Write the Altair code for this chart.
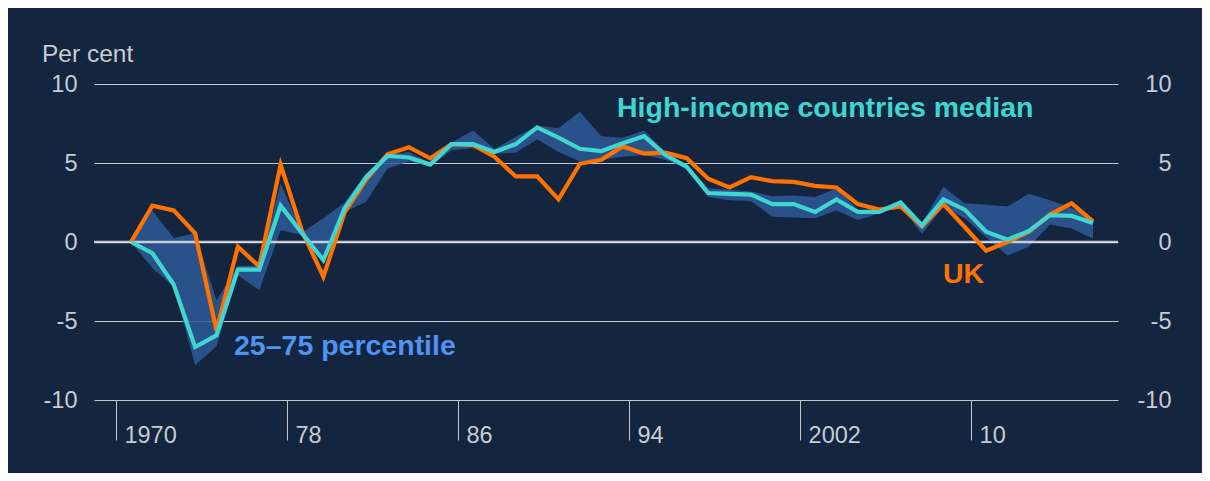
import altair as alt
import pandas as pd

# ---------------- data ----------------
years = list(range(1970, 2016))

uk = [0.0, 2.3, 2.0, 0.55, -5.6, -0.3, -1.55, 4.9, 0.7, -2.2, 1.9, 3.95,
      5.55, 6.0, 5.3, 6.2, 6.15, 5.4, 4.15, 4.15, 2.7, 4.95, 5.2, 6.05,
      5.6, 5.65, 5.3, 4.0, 3.45, 4.1, 3.85, 3.8, 3.55, 3.45, 2.4, 2.05,
      2.25, 1.0, 2.4, 0.95, -0.55, 0.0, 0.65, 1.75, 2.45, 1.3]

median = [0.0, -0.7, -2.7, -6.65, -5.9, -1.75, -1.75, 2.3, 0.55, -1.15, 2.15, 4.1,
          5.45, 5.35, 4.9, 6.2, 6.2, 5.7, 6.2, 7.25, 6.6, 5.9, 5.75, 6.25,
          6.7, 5.5, 4.75, 3.1, 3.05, 3.0, 2.4, 2.4, 1.9, 2.7, 1.9, 1.9,
          2.5, 1.05, 2.7, 2.05, 0.65, 0.15, 0.7, 1.7, 1.65, 1.2]

p75 = [0.0, 2.0, 0.25, 0.55, -3.7, -1.5, -1.5, 3.7, 0.6, 1.5, 2.5, 4.35,
       5.5, 5.7, 5.0, 6.3, 7.05, 5.9, 6.65, 7.35, 7.2, 8.25, 6.7, 6.6,
       7.05, 5.7, 4.9, 3.4, 3.3, 3.2, 2.9, 2.95, 2.85, 3.4, 2.05, 2.1,
       2.65, 1.2, 3.5, 2.45, 2.35, 2.25, 3.05, 2.65, 2.15, 1.5]

p25 = [0.0, -1.65, -2.8, -7.8, -6.6, -2.1, -3.05, 0.75, 0.45, -1.3, 1.9, 2.55,
       4.65, 5.1, 4.8, 5.8, 5.95, 5.6, 5.65, 6.5, 5.7, 5.1, 5.2, 5.4,
       5.5, 5.2, 4.65, 2.85, 2.65, 2.6, 1.6, 1.55, 1.5, 2.0, 1.4, 1.8,
       2.3, 0.5, 2.25, 1.5, 0.3, -0.85, -0.3, 1.1, 0.85, 0.2]

y_ticks = [-10, -5, 0, 5, 10]
x_ticks = [1970, 1978, 1986, 1994, 2002, 2010]
zero_line = [0]

label_median = "High-income countries median"
label_band = "25\u201375 percentile"
label_uk = "UK"
label_unit = "Per cent"

df = pd.DataFrame({"year": years, "uk": uk, "median": median, "p25": p25, "p75": p75})

# ---------------- styles ----------------
BG = "#13253f"
BAND = "#2e5a98"
ORANGE = "#ff7200"
TURQ = "#3fd6d1"
BLUE_TXT = "#4f93f5"
GRID = "#c3c6cc"
ZERO = "#d8dade"
TEXT = "#c8ccd3"
FONT = "Liberation Sans"

W, H = 1024, 316

xscale = alt.Scale(domain=[1968.27, 2016.17], nice=False, zero=False)
yscale = alt.Scale(domain=[-10, 10], nice=False, zero=False)

x_axis = alt.Axis(
    values=x_ticks,
    labelExpr="(datum.value == 1970 || datum.value == 2002) ? toString(datum.value) : substring(toString(datum.value), 2, 4)",
    title=None, domain=False, grid=False,
    ticks=True, tickSize=40, tickColor=GRID, tickWidth=1, tickOffset=-15,
    labelAlign="left", labelBaseline="top", labelPadding=-17, labelOffset=8,
    labelFontSize=23.5, labelColor=TEXT, labelFont=FONT,
    labelFlush=False, labelOverlap=False, labelBound=False,
)

left_axis = alt.Axis(
    values=y_ticks, labelExpr="toString(datum.value)", orient="left",
    title=None, domain=False, ticks=False,
    grid=True, gridColor=GRID, gridWidth=1,
    labelAlign="right", labelBaseline="middle", labelPadding=17,
    labelFontSize=23.5, labelColor=TEXT, labelFont=FONT,
)

right_axis = alt.Axis(
    values=y_ticks, labelExpr="toString(datum.value)", orient="right",
    title=None, domain=False, ticks=False, grid=False,
    labelAlign="right", labelBaseline="middle", labelPadding=53,
    labelFontSize=23.5, labelColor=TEXT, labelFont=FONT,
)

X = alt.X("year:Q", scale=xscale, axis=x_axis)

base = alt.Chart(df)

band = base.mark_area(color=BAND, opacity=0.85).encode(
    x=X,
    y=alt.Y("p25:Q", scale=yscale, axis=left_axis),
    y2="p75:Q",
)

zero = alt.Chart(pd.DataFrame({"v": zero_line})).mark_rule(
    color=ZERO, strokeWidth=2.5, opacity=0.9
).encode(y=alt.Y("v:Q", scale=yscale, axis=None))

uk_line = base.mark_line(color=ORANGE, strokeWidth=4.2).encode(
    x=X, y=alt.Y("uk:Q", scale=yscale, axis=None)
)

med_line = base.mark_line(color=TURQ, strokeWidth=4.2).encode(
    x=X, y=alt.Y("median:Q", scale=yscale, axis=right_axis)
)


def label(text, color, x, y, size=28.5, weight="bold"):
    return alt.Chart(pd.DataFrame({"t": [text]})).mark_text(
        align="left", baseline="alphabetic", font=FONT, fontSize=size,
        fontWeight=weight, color=color,
    ).encode(text="t:N", x=alt.value(x), y=alt.value(y))


t_med = label(label_median, TURQ, 523, 33)
t_band = label(label_band, BLUE_TXT, 140, 271)
t_uk = label(label_uk, ORANGE, 849, 199)
t_unit = label(label_unit, TEXT, -52, -22, size=24.5, weight="normal")

chart = alt.layer(
    band, zero, uk_line, med_line, t_med, t_band, t_uk, t_unit
).resolve_scale(y="independent").properties(
    width=W, height=H,
    background=BG,
    autosize=alt.AutoSizeParams(type="none"),
    padding={"left": 86, "top": 76, "right": 84, "bottom": 73},
).configure_view(stroke=None)

chart.save("out.html", embed_options={"renderer": "svg", "actions": False})
